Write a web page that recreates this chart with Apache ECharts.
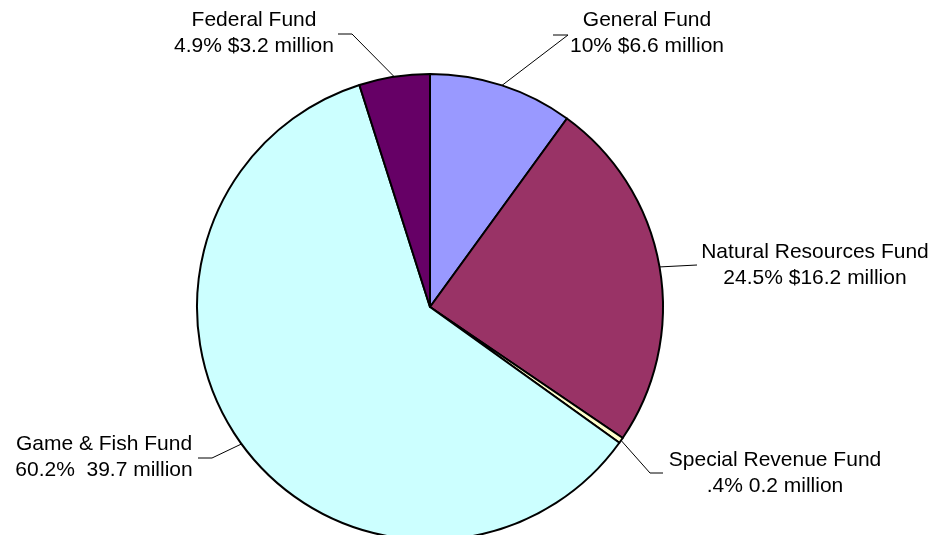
<!DOCTYPE html>
<html>
<head>
<meta charset="utf-8">
<script src="https://cdn.jsdelivr.net/npm/echarts@6/dist/echarts.min.js"></script>
<style>
html,body{margin:0;padding:0;background:#fff;}
#c{width:935px;height:535px;}
</style>
</head>
<body>
<div id="c"></div>
<script>
// Data
const categories = ['General Fund', 'Natural Resources Fund', 'Special Revenue Fund', 'Game & Fish Fund', 'Federal Fund'];
const percents = [10, 24.5, 0.4, 60.2, 4.9];
const detailText = ['10% $6.6 million', '24.5% $16.2 million', '.4% 0.2 million', '60.2%  39.7 million', '4.9% $3.2 million'];
const colors = ['#9999FF', '#993366', '#FFFFCC', '#CCFFFF', '#660066'];

// Label layout (text block centre + leader line bend/end), by data index
const labelPos = [
  {x: 647, y: 33, bend: [568, 35], end: [553, 35]},
  {x: 815, y: 265, bend: null, end: [697, 265]},
  {x: 775, y: 473, bend: [650, 473], end: [663, 473]},
  {x: 104, y: 457, bend: [212, 458], end: [198, 458]},
  {x: 254, y: 33, bend: [352, 34], end: [338, 34]}
];

const chart = echarts.init(document.getElementById('c'), null, {renderer: 'canvas'});
chart.setOption({
  backgroundColor: '#ffffff',
  animation: false,
  series: [{
    type: 'pie',
    center: [430, 307],
    radius: 233,
    startAngle: 90,
    clockwise: true,
    avoidLabelOverlap: false,
    data: categories.map((n, i) => ({name: n, value: percents[i], itemStyle: {color: colors[i]}})),
    itemStyle: {borderColor: '#000', borderWidth: 2},
    emphasis: {disabled: true},
    label: {
      show: true,
      position: 'outside',
      color: '#000',
      fontFamily: 'Arial, "Liberation Sans", sans-serif',
      fontSize: 21,
      lineHeight: 26,
      align: 'center',
      formatter: p => p.name + '\n' + detailText[p.dataIndex]
    },
    labelLine: {
      show: true,
      length: 20,
      length2: 10,
      lineStyle: {color: '#000', width: 1}
    },
    labelLayout: function (params) {
      const lp = labelPos[params.dataIndex];
      const start = params.labelLinePoints ? params.labelLinePoints[0] : null;
      const pts = [];
      if (start) pts.push(start);
      if (lp.bend) pts.push(lp.bend);
      pts.push(lp.end);
      const out = {x: lp.x, y: lp.y, align: 'center', verticalAlign: 'middle'};
      if (start) out.labelLinePoints = pts;
      return out;
    }
  }]
});
</script>
</body>
</html>
